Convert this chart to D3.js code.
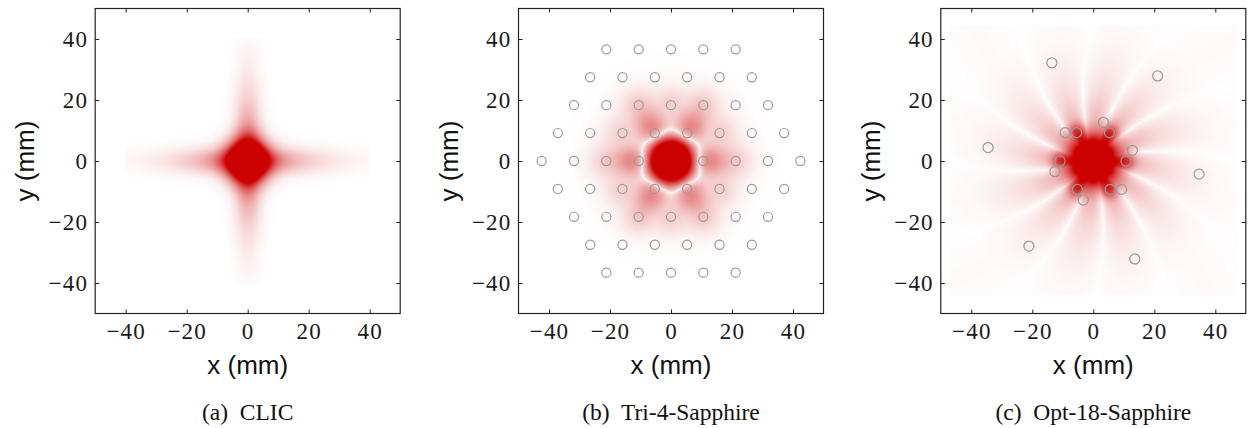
<!DOCTYPE html>
<html>
<head>
<meta charset="utf-8">
<script src="https://cdn.jsdelivr.net/npm/d3@7"></script>
<style>
  body { margin: 0; background: #fff; }
  .tick line { stroke: #222; stroke-width: 1; }
  .tick text { font-family: "Liberation Serif", "Times New Roman", serif !important; font-size: 23px !important; letter-spacing: 1.2px; fill: #1a1a1a; }
  .axis-title { font-family: "Liberation Sans", Arial, sans-serif; font-size: 26px; fill: #111; }
  .caption { font-family: "Liberation Serif", serif; font-size: 23.5px; fill: #111; white-space: pre; }
</style>
</head>
<body>
<svg id="fig" width="1250" height="428"></svg>
<script>
"use strict";

// ---- data (all lengths in mm) ----
const captions = ["(a)  CLIC", "(b)  Tri-4-Sapphire", "(c)  Opt-18-Sapphire"];
const tickValues = [-40, -20, 0, 20, 40];
const axisDomain = [-50, 50];

// field spots: [x, y, radius along (from origin), radius across, amplitude, sharpness]
const clicCore = [[0, 0, 6.5, 6.5, 1.8, 2]];
// arm brightness along the four axis arms
const clicArmDist  = [0, 5, 10, 15, 20, 25, 30, 35, 40];
const clicArmLevel = [0.55, 0.5, 0.42, 0.3, 0.2, 0.13, 0.08, 0.05, 0.03];
const clicArmHalfWidth = 4.2;

// Tri-4-Sapphire hole lattice, row by row
const triRowY = [36.6, 27.45, 18.3, 9.15, 0, -9.15, -18.3, -27.45, -36.6];
const triRowX = [
  [-21.2, -10.6, 0, 10.6, 21.2],
  [-26.5, -15.9, -5.3, 5.3, 15.9, 26.5],
  [-31.8, -21.2, -10.6, 0, 10.6, 21.2, 31.8],
  [-37.1, -26.5, -15.9, -5.3, 5.3, 15.9, 26.5, 37.1],
  [-42.4, -31.8, -21.2, -10.6, 10.6, 21.2, 31.8, 42.4],
  [-37.1, -26.5, -15.9, -5.3, 5.3, 15.9, 26.5, 37.1],
  [-31.8, -21.2, -10.6, 0, 10.6, 21.2, 31.8],
  [-26.5, -15.9, -5.3, 5.3, 15.9, 26.5],
  [-21.2, -10.6, 0, 10.6, 21.2]
];
const triHoleR = 1.5;
const triSpots = [
  [0, 0, 5.5, 5.5, 4.0, 2],
  [12.5, 0, 5.5, 4.5, -0.3, 2], [6.25, 10.83, 5.5, 4.5, -0.3, 2], [-6.25, 10.83, 5.5, 4.5, -0.3, 2],
  [-12.5, 0, 5.5, 4.5, -0.3, 2], [-6.25, -10.83, 5.5, 4.5, -0.3, 2], [6.25, -10.83, 5.5, 4.5, -0.3, 2],
  [0, 18.3, 4.5, 4.5, -0.05, 2], [10.6, 18.3, 4.5, 4.5, -0.05, 2], [-10.6, 18.3, 4.5, 4.5, -0.05, 2],
  [15.9, 9.15, 4.5, 4.5, -0.05, 2], [-15.9, 9.15, 4.5, 4.5, -0.05, 2], [21.2, 0, 4.5, 4.5, -0.045, 2],
  [-21.2, 0, 4.5, 4.5, -0.045, 2], [15.9, -9.15, 4.5, 4.5, -0.05, 2], [-15.9, -9.15, 4.5, 4.5, -0.05, 2],
  [0, -18.3, 4.5, 4.5, -0.05, 2], [10.6, -18.3, 4.5, 4.5, -0.05, 2], [-10.6, -18.3, 4.5, 4.5, -0.05, 2]
];
const triGamma = 0.6;
const triHaloR     = [0, 16, 22, 29, 37];
const triHaloLevel = [0, 0, 0.03, 0.015, 0];

// Opt-18-Sapphire holes
const optHoleX = [-13.6, 21.1, -34.5, 34.7, -21.1, 13.6,
                  10.7, 5.3, -5.5, -10.9, -5.2, 5.5,
                  12.8, 3.3, -9.2, -12.6, -3.3, 9.3];
const optHoleY = [32.2, 27.9, 4.4, -4.3, -27.9, -32.1,
                  0, 9.3, 9.3, 0, -9.3, -9.3,
                  3.5, 12.7, 9.3, -3.5, -12.8, -9.3];
const optHoleR = 1.65;
const optSpots = [
  [0, 0, 8.5, 8.5, 1.5, 3],
  [10.7, 0, 3, 3, 0.45, 2], [5.3, 9.3, 3, 3, 0.45, 2], [-5.5, 9.3, 3, 3, 0.45, 2],
  [-10.9, 0, 3, 3, 0.45, 2], [-5.2, -9.3, 3, 3, 0.45, 2], [5.5, -9.3, 3, 3, 0.45, 2]
];
// radial streaks: 12 pale lines, first one at 12 deg, bending -0.35 deg per mm
const optStreakCount = 12;
const optStreakAngle0 = 12;
const optStreakTwist = -0.35;
const optEnvR     = [0, 8, 12, 16, 22, 30, 38, 46];
const optEnvLevel = [0, 0.12, 0.27, 0.24, 0.15, 0.08, 0.035, 0.012];
const optFloor = 0.006;
const optFieldX = [-47, 47];
const optFieldY = [-44, 44.5];

// ---- layout ----
const panelLeft = [95.2, 518.5, 940.8];
const panelTop = 8.5;
const plotSize = 305;

const svg = d3.select("#fig");
const x = d3.scaleLinear().domain(axisDomain).range([0, plotSize]);
const y = d3.scaleLinear().domain(axisDomain).range([plotSize, 0]);
const heat = d3.scaleLinear().domain([0, 1]).range(["#ffffff", "#cc0000"]).clamp(true);

// colour lookup table so we don't parse colours per pixel
const lut = d3.range(256).map(i => d3.rgb(heat(i / 255)));

function spotSum(spots, vx, vy) {
  let s = 0;
  spots.forEach(p => {
    const dx = vx - p[0], dy = vy - p[1];
    const len = Math.hypot(p[0], p[1]);
    let a, c;
    if (len === 0) { a = dx; c = dy; }
    else { a = (dx * p[0] + dy * p[1]) / len; c = (-dx * p[1] + dy * p[0]) / len; }
    const d = Math.hypot(a / p[2], c / p[3]);
    s += p[4] * Math.exp(-Math.pow(d, p[5]));
  });
  return s;
}

const clicArm = d3.scaleLinear().domain(clicArmDist).range(clicArmLevel).clamp(true);
function clicField(vx, vy) {
  let v = spotSum(clicCore, vx, vy);
  if (Math.abs(vx) <= 40) v += clicArm(Math.abs(vx)) * Math.exp(-Math.pow(Math.abs(vy) / clicArmHalfWidth, 2));
  if (Math.abs(vy) <= 40) v += clicArm(Math.abs(vy)) * Math.exp(-Math.pow(Math.abs(vx) / clicArmHalfWidth, 2));
  return v;
}

const triHalo = d3.scaleLinear().domain(triHaloR).range(triHaloLevel).clamp(true);
function triField(vx, vy) {
  return Math.pow(Math.abs(spotSum(triSpots, vx, vy)), triGamma) + triHalo(Math.hypot(vx, vy));
}

const optEnv = d3.scaleLinear().domain(optEnvR).range(optEnvLevel).clamp(true);
function optField(vx, vy) {
  if (vx < optFieldX[0] || vx > optFieldX[1] || vy < optFieldY[0] || vy > optFieldY[1]) return 0;
  const r = Math.hypot(vx, vy);
  const th = Math.atan2(vy, vx);
  const rad = Math.PI / 180;
  const phase = (optStreakCount / 2) * (th - optStreakAngle0 * rad - optStreakTwist * rad * (r - 12));
  const streak = optEnv(r) * Math.pow(Math.abs(Math.sin(phase)), 0.7);
  return Math.abs(spotSum(optSpots, vx, vy)) + streak + optFloor;
}

function drawField(g, valueAt) {
  const w = Math.round(x.range()[1]), h = Math.round(y.range()[0]);
  const canvas = document.createElement("canvas");
  canvas.width = w; canvas.height = h;
  const ctx = canvas.getContext("2d");
  const img = ctx.createImageData(w, h);
  for (let j = 0; j < h; j++) {
    const vy = y.invert(j + 0.5);
    for (let i = 0; i < w; i++) {
      const v = Math.max(0, Math.min(1, valueAt(x.invert(i + 0.5), vy)));
      const c = lut[Math.round(v * 255)];
      const k = (j * w + i) * 4;
      img.data[k] = c.r; img.data[k + 1] = c.g; img.data[k + 2] = c.b; img.data[k + 3] = 255;
    }
  }
  ctx.putImageData(img, 0, 0);
  g.append("image")
    .attr("href", canvas.toDataURL())
    .attr("width", w)
    .attr("height", h);
}

function drawHoles(g, hx, hy, r) {
  g.selectAll("circle.hole")
    .data(d3.zip(hx, hy))
    .enter().append("circle")
      .attr("class", "hole")
      .attr("cx", d => x(d[0]))
      .attr("cy", d => y(d[1]))
      .attr("r", x(r) - x(0))
      .attr("fill", "none")
      .attr("stroke", "#9a9a9a")
      .attr("stroke-width", 1.2);
}

const triHoleX = [], triHoleY = [];
triRowY.forEach((ry, i) => triRowX[i].forEach(rx => { triHoleX.push(rx); triHoleY.push(ry); }));

const fields = [clicField, triField, optField];

function styleAxis(a) {
  a.attr("font-family", "'Liberation Serif', serif").attr("font-size", 23);
  a.select(".domain").remove();
}

captions.forEach((cap, p) => {
  const g = svg.append("g").attr("transform", `translate(${panelLeft[p]},${panelTop})`);

  drawField(g, fields[p]);
  if (p === 1) drawHoles(g, triHoleX, triHoleY, triHoleR);
  if (p === 2) drawHoles(g, optHoleX, optHoleY, optHoleR);

  // axes, ticks pointing inwards on all four sides
  g.append("g").attr("transform", `translate(0,${plotSize})`)
    .call(d3.axisBottom(x).tickValues(tickValues).tickSizeInner(-4).tickSizeOuter(0).tickPadding(9))
    .call(styleAxis);
  g.append("g")
    .call(d3.axisLeft(y).tickValues(tickValues).tickSizeInner(-4).tickSizeOuter(0).tickPadding(7))
    .call(styleAxis);
  g.append("g")
    .call(d3.axisTop(x).tickValues(tickValues).tickSizeInner(-4).tickSizeOuter(0).tickFormat(""))
    .call(styleAxis);
  g.append("g").attr("transform", `translate(${plotSize},0)`)
    .call(d3.axisRight(y).tickValues(tickValues).tickSizeInner(-4).tickSizeOuter(0).tickFormat(""))
    .call(styleAxis);

  g.append("rect")
    .attr("width", plotSize).attr("height", plotSize)
    .attr("fill", "none").attr("stroke", "#222").attr("stroke-width", 1.2);

  g.append("text").attr("class", "axis-title")
    .attr("x", plotSize / 2).attr("y", 365.5)
    .attr("text-anchor", "middle").text("x (mm)");
  g.append("text").attr("class", "axis-title")
    .attr("transform", `translate(-61,${plotSize / 2}) rotate(-90)`)
    .attr("text-anchor", "middle").text("y (mm)");

  g.append("text").attr("class", "caption")
    .attr("x", plotSize / 2).attr("y", 411.5)
    .attr("text-anchor", "middle").text(cap);
});
</script>
</body>
</html>
